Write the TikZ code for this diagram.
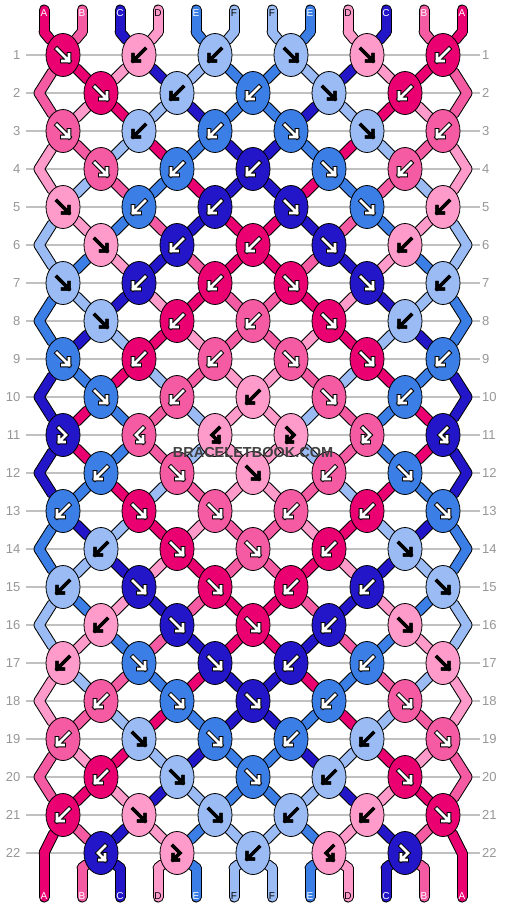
\documentclass[tikz,border=0pt]{standalone}
\usepackage{fontspec}
\setmainfont{Liberation Sans}
\usetikzlibrary{shapes.geometric}

\definecolor{strandA}{RGB}{235,0,114}
\definecolor{strandB}{RGB}{244,91,162}
\definecolor{strandC}{RGB}{35,22,200}
\definecolor{strandD}{RGB}{255,155,203}
\definecolor{strandE}{RGB}{58,126,230}
\definecolor{strandF}{RGB}{154,187,243}
\definecolor{guide}{RGB}{192,192,192}
\definecolor{rownum}{RGB}{150,150,150}

\pgfdeclarelayer{grid}
\pgfdeclarelayer{lanes}
\pgfsetlayers{grid,lanes,main}

\def\fwdpath{(-6,-6) -- (6,6) (6,-0.5) -- (6,6) -- (-0.5,6)}
\def\bwdpath{(6,-6) -- (-6,6) (-6,-0.5) -- (-6,6) -- (0.5,6)}
\def\fwdbwdpath{(-4,-7) -- (3,0) -- (-4,7) (-4,1.5) -- (-4,7) -- (1.5,7)}
\def\bwdfwdpath{(4,-7) -- (-3,0) -- (4,7) (4,1.5) -- (4,7) -- (-1.5,7)}

\tikzset{
  knot/.style={ellipse, draw, line width=0.8pt, fill=strand#1,
    minimum width=34pt, minimum height=43pt, inner sep=0pt},
  rim/.style={line width=11pt, line cap=round, draw=black},
  band/.style={line width=9pt, line cap=round, draw=strand#1},
  dark halo/.style={line width=4.6pt, line cap=rect, miter limit=4, black},
  white ink/.style={line width=2.8pt, line cap=rect, miter limit=4, white},
  black ink/.style={line width=3.2pt, line cap=rect, miter limit=4, black},
  halo A/.style=dark halo, halo B/.style=dark halo, halo C/.style=dark halo,
  halo D/.style=black ink, halo E/.style=dark halo, halo F/.style=black ink,
  ink A/.style=white ink, ink B/.style=white ink, ink C/.style=white ink,
  ink D/.style=black ink, ink E/.style=white ink, ink F/.style=black ink,
  tag/.style={font=\fontsize{10}{10}\selectfont, inner sep=0pt, text=white},
  tag D/.style={tag, text=black}, tag F/.style={tag, text=black},
  tag A/.style=tag, tag B/.style=tag, tag C/.style=tag, tag E/.style=tag,
  rowlabel/.style={font=\fontsize{13}{13}\selectfont, text=rownum, inner sep=0pt},
  pics/icon f/.style={code={\draw[halo #1] \fwdpath; \draw[ink #1] \fwdpath;}},
  pics/icon b/.style={code={\draw[halo #1] \bwdpath; \draw[ink #1] \bwdpath;}},
  pics/icon fb/.style={code={\draw[halo #1] \fwdbwdpath; \draw[ink #1] \fwdbwdpath;}},
  pics/icon bf/.style={code={\draw[halo #1] \bwdfwdpath; \draw[ink #1] \bwdfwdpath;}},
}

\def\knotrows{
  1/{A/f,D/b,F/b,F/f,D/f,A/b},
  2/{A/f,F/b,E/b,F/f,A/b},
  3/{B/f,F/b,E/b,E/f,F/f,B/b},
  4/{B/f,E/b,C/b,E/f,B/b},
  5/{D/f,E/b,C/b,C/f,E/f,D/b},
  6/{D/f,C/b,A/b,C/f,D/b},
  7/{F/f,C/b,A/b,A/f,C/f,F/b},
  8/{F/f,A/b,B/b,A/f,F/b},
  9/{E/f,A/b,B/b,B/f,A/f,E/b},
  10/{E/f,B/b,D/b,B/f,E/b},
  11/{C/fb,B/bf,D/bf,D/fb,B/fb,C/bf},
  12/{E/b,B/f,D/f,B/b,E/f},
  13/{E/b,A/f,B/f,B/b,A/b,E/f},
  14/{F/b,A/f,B/f,A/b,F/f},
  15/{F/b,C/f,A/f,A/b,C/b,F/f},
  16/{D/b,C/f,A/f,C/b,D/f},
  17/{D/b,E/f,C/f,C/b,E/b,D/f},
  18/{B/b,E/f,C/f,E/b,B/f},
  19/{B/b,F/f,E/f,E/b,F/b,B/f},
  20/{A/b,F/f,E/f,F/b,A/f},
  21/{A/b,D/f,F/f,F/b,D/b,A/f},
  22/{C/bf,D/fb,F/b,D/bf,C/fb}}

\def\lanerows{
  0/{A,B,C,D,E,F,F,E,D,C,B,A},
  1/{B,A,D,C,F,E,E,F,C,D,A,B},
  2/{B,D,A,F,C,E,E,C,F,A,D,B},
  3/{D,B,F,A,E,C,C,E,A,F,B,D},
  4/{D,F,B,E,A,C,C,A,E,B,F,D},
  5/{F,D,E,B,C,A,A,C,B,E,D,F},
  6/{F,E,D,C,B,A,A,B,C,D,E,F},
  7/{E,F,C,D,A,B,B,A,D,C,F,E},
  8/{E,C,F,A,D,B,B,D,A,F,C,E},
  9/{C,E,A,F,B,D,D,B,F,A,E,C},
  10/{C,A,E,B,F,D,D,F,B,E,A,C},
  11/{C,A,E,B,F,D,D,F,B,E,A,C},
  12/{C,E,A,F,B,D,D,B,F,A,E,C},
  13/{E,C,F,A,D,B,B,D,A,F,C,E},
  14/{E,F,C,D,A,B,B,A,D,C,F,E},
  15/{F,E,D,C,B,A,A,B,C,D,E,F},
  16/{F,D,E,B,C,A,A,C,B,E,D,F},
  17/{D,F,B,E,A,C,C,A,E,B,F,D},
  18/{D,B,F,A,E,C,C,E,A,F,B,D},
  19/{B,D,A,F,C,E,E,C,F,A,D,B},
  20/{B,A,D,C,F,E,E,F,C,D,A,B},
  21/{A,B,C,D,E,F,F,E,D,C,B,A},
  22/{A,B,C,D,E,F,F,E,D,C,B,A}}

\begin{document}
\begin{tikzpicture}[x=1pt,y=-1pt]
  \useasboundingbox (0,0) rectangle (506,908);

  \foreach \r in {1,...,22} {
    \node[rowlabel, anchor=east] (left-\r) at (20.5,{17+38*\r}) {\r};
    \node[rowlabel, anchor=west] (right-\r) at (482,{17+38*\r}) {\r};
    \begin{pgfonlayer}{grid}
      \draw[guide, line width=1.3pt] (26,{17+38*\r}) -- (480,{17+38*\r});
    \end{pgfonlayer}
  }

  \foreach \c [count=\p from 0] in {A,B,C,D,E,F,F,E,D,C,B,A} {
    \coordinate (t-\p) at ({44+38*\p},10);
    \coordinate (p-0-\p) at ({44+38*\p},32);
    \coordinate (p-23-\p) at ({44+38*\p},868);
    \coordinate (b-\p) at ({44+38*\p},897);
    \node[tag \c] (top-\p) at ({44+38*\p},13) {\c};
    \node[tag \c] (bottom-\p) at ({44+38*\p},896) {\c};
  }
  \foreach \r in {2,4,...,20} {
    \coordinate (p-\r-0) at (39,{17+38*\r});
    \coordinate (p-\r-11) at (467,{17+38*\r});
  }
  \coordinate (p-22-0) at (44,853);
  \coordinate (p-22-11) at (462,853);

  \foreach \r/\row in \knotrows {
    \ifodd\r\relax \def\rowoff{0}\else \def\rowoff{1}\fi
    \foreach \c/\t [count=\i from 0] in \row {
      \pgfmathtruncatemacro\pa{2*\i+\rowoff}
      \pgfmathtruncatemacro\pb{\pa+1}
      \node[knot=\c, alias=p-\r-\pa, alias=p-\r-\pb] (k-\r-\i)
        at ({63+38*\rowoff+76*\i},{17+38*\r}) {};
      \pic at (k-\r-\i) {icon \t=\c};
    }
  }

  \begin{pgfonlayer}{lanes}
    \foreach \r/\seq in \lanerows {
      \pgfmathtruncatemacro\nr{\r+1}
      \foreach \c [count=\p from 0] in \seq
        \draw[rim] (p-\r-\p) -- (p-\nr-\p);
    }
    \foreach \c [count=\p from 0] in {A,B,C,D,E,F,F,E,D,C,B,A} {
      \draw[rim] (t-\p) -- (p-0-\p);
      \draw[rim] (p-23-\p) -- (b-\p);
    }
    \foreach \r/\seq in \lanerows {
      \pgfmathtruncatemacro\nr{\r+1}
      \foreach \c [count=\p from 0] in \seq
        \draw[band=\c] (p-\r-\p) -- (p-\nr-\p);
    }
    \foreach \c [count=\p from 0] in {A,B,C,D,E,F,F,E,D,C,B,A} {
      \draw[band=\c] (t-\p) -- (p-0-\p);
      \draw[band=\c] (p-23-\p) -- (b-\p);
    }
  \end{pgfonlayer}

  \node[font=\bfseries\fontsize{14.5}{15}\selectfont, text=black!75] (mark) at (253,453) {BRACELETBOOK.COM};
\end{tikzpicture}
\end{document}
